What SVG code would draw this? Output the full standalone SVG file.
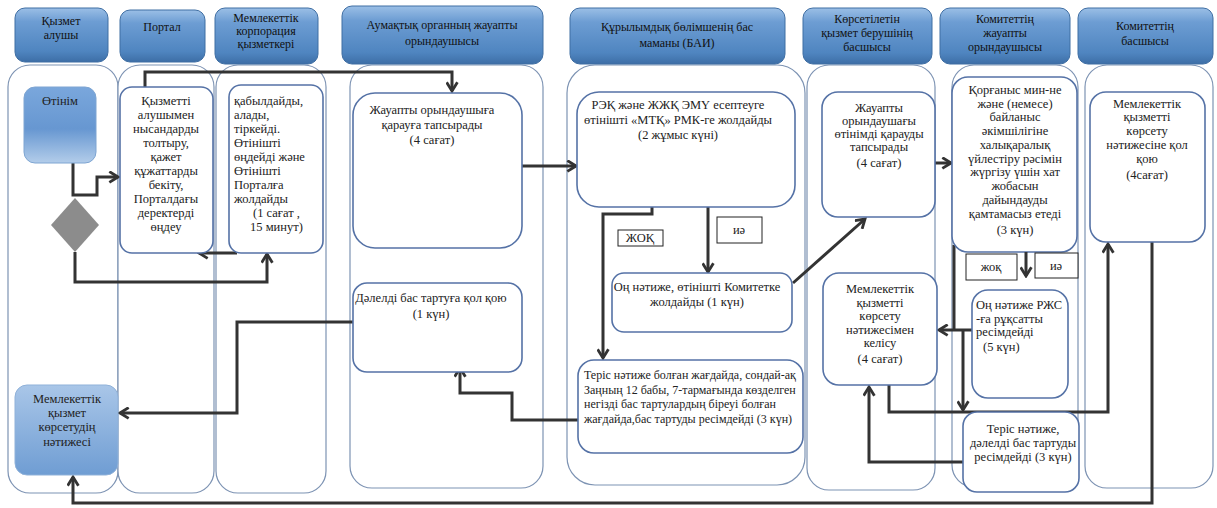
<svg xmlns="http://www.w3.org/2000/svg" width="1217" height="508" viewBox="0 0 1217 508">
<defs>
<linearGradient id="hdr" x1="0" y1="0" x2="0" y2="1">
<stop offset="0" stop-color="#9bbfe6"/>
<stop offset="0.25" stop-color="#6d9dd3"/>
<stop offset="0.8" stop-color="#4f85c0"/>
<stop offset="1" stop-color="#3d6ea6"/>
</linearGradient>
<linearGradient id="start" x1="0" y1="0" x2="0" y2="1">
<stop offset="0" stop-color="#7aa7dc"/>
<stop offset="0.55" stop-color="#6797d1"/>
<stop offset="1" stop-color="#b3cdea"/>
</linearGradient>
<linearGradient id="endg" x1="0" y1="0" x2="0" y2="1">
<stop offset="0" stop-color="#a9c6e8"/>
<stop offset="1" stop-color="#6f9dd3"/>
</linearGradient>
<marker id="arr" viewBox="0 0 12 12" refX="10" refY="6" markerWidth="13" markerHeight="13" markerUnits="userSpaceOnUse" orient="auto">
<path d="M2,1 L10,6 L2,11" fill="none" stroke="#333" stroke-width="2.6"/>
</marker>
</defs>
<style>
.lane{fill:#fff;stroke:#7d93b3;stroke-width:1.2}
.hdr{fill:url(#hdr);stroke:#3f6ea3;stroke-width:1}
.box{fill:#fff;stroke:#5572a6;stroke-width:1.6}
.lbl{fill:#fff;stroke:#222;stroke-width:1}
.t{font-family:"Liberation Serif","DejaVu Serif",serif;font-size:12.5px;fill:#222}
.th{font-family:"Liberation Serif","DejaVu Serif",serif;font-size:12px;fill:#111}
.s{font-size:12px}
.c{text-anchor:middle}
.con{fill:none;stroke:#333;stroke-width:3}
</style>

<g id="lanes">
<rect class="lane" x="8" y="65" width="110" height="428" rx="22"/>
<rect class="lane" x="118" y="65" width="96" height="428" rx="22"/>
<rect class="lane" x="216" y="65" width="110" height="428" rx="22"/>
<rect class="lane" x="350" y="65" width="193" height="423" rx="22"/>
<rect class="lane" x="567" y="65" width="238" height="420" rx="28"/>
<rect class="lane" x="807" y="65" width="128" height="425" rx="22"/>
<rect class="lane" x="952" y="65" width="126" height="422" rx="22"/>
<rect class="lane" x="1085" y="65" width="128" height="423" rx="22"/>
</g>

<g id="headers">
<rect class="hdr" x="15" y="8" width="93" height="54" rx="10"/>
<text class="th c" x="61" y="25">Қызмет</text><text class="th c" x="61" y="39">алушы</text>
<rect class="hdr" x="120" y="10" width="85" height="52" rx="10"/>
<text class="th c" x="162" y="31">Портал</text>
<rect class="hdr" x="215" y="8" width="103" height="56" rx="10"/>
<text class="th c" x="266" y="22">Мемлекеттік</text><text class="th c" x="266" y="35">корпорация</text><text class="th c" x="266" y="48">қызметкері</text>
<rect class="hdr" x="342" y="6" width="201" height="58" rx="10"/>
<text class="th c" x="442" y="29">Аумақтық органның жауапты</text><text class="th c" x="442" y="45">орындаушысы</text>
<rect class="hdr" x="570" y="8" width="215" height="56" rx="10"/>
<text class="th c" x="677" y="31">Құрылымдық бөлімшенің бас</text><text class="th c" x="677" y="47">маманы (БАИ)</text>
<rect class="hdr" x="803" y="8" width="129" height="56" rx="10"/>
<text class="th c" x="867" y="23">Көрсетілетін</text><text class="th c" x="867" y="37">қызмет берушінің</text><text class="th c" x="867" y="51">басшысы</text>
<rect class="hdr" x="940" y="8" width="130" height="56" rx="10"/>
<text class="th c" x="1005" y="23">Комитеттің</text><text class="th c" x="1005" y="37">жауапты</text><text class="th c" x="1005" y="51">орындаушысы</text>
<rect class="hdr" x="1078" y="8" width="135" height="56" rx="10"/>
<text class="th c" x="1145" y="30">Комитеттің</text><text class="th c" x="1145" y="45">басшысы</text>
</g>

<g id="connectors">
<polyline class="con" points="73,163 73,195 97,195 97,177 118,177" marker-end="url(#arr)"/>
<polyline class="con" points="75,252 75,282 267,282 267,254" marker-end="url(#arr)"/>
<polyline class="con" points="237,253 199,253" marker-end="url(#arr)"/>
<polyline class="con" points="145,87 145,72 452,72 452,91" marker-end="url(#arr)"/>
<polyline class="con" points="522,166 576,166" marker-end="url(#arr)"/>
<polyline class="con" points="708,207 708,272" marker-end="url(#arr)"/>
<polyline class="con" points="652,207 652,214 603,214 603,358" marker-end="url(#arr)"/>
<polyline class="con" points="793,283 865,219" marker-end="url(#arr)"/>
<polyline class="con" points="935,163 951,163" marker-end="url(#arr)"/>
<polyline class="con" points="954,245 954,330"/>
<polyline class="con" points="972,330 939,330" marker-end="url(#arr)"/>
<polyline class="con" points="963,330 963,410" marker-end="url(#arr)"/>
<polyline class="con" points="889,385 889,412 1108,412 1108,244" marker-end="url(#arr)"/>
<polyline class="con" points="963,462 869,462 869,387" marker-end="url(#arr)"/>
<polyline class="con" points="1152,242 1152,503 73,503 73,477" marker-end="url(#arr)"/>
<polyline class="con" points="578,420 512,420 512,393 460,393 460,368" marker-end="url(#arr)"/>
<polyline class="con" points="353,322 237,322 237,413 120,413" marker-end="url(#arr)"/>
</g>

<g id="n-start">
<rect x="24" y="87" width="72" height="76" rx="11" fill="url(#start)" stroke="#7ea5d2" stroke-width="1"/>
<text class="t c" x="60" y="105">Өтінім</text>
</g>
<g id="n-decision">
<polygon points="75,198 99,225 75,252 51,225" fill="#8c8c8c"/>
</g>
<g id="n-portal">
<rect class="box" x="120" y="87" width="93" height="166" rx="12"/>
<text class="t c" x="166" y="105">Қызметті</text>
<text class="t c" x="166" y="119">алушымен</text>
<text class="t c" x="166" y="133">нысандарды</text>
<text class="t c" x="166" y="147">толтыру,</text>
<text class="t c" x="166" y="161">қажет</text>
<text class="t c" x="166" y="175">құжаттарды</text>
<text class="t c" x="166" y="189">бекіту,</text>
<text class="t c" x="166" y="203">Порталдағы</text>
<text class="t c" x="166" y="217">деректерді</text>
<text class="t c" x="166" y="231">өңдеу</text>
</g>
<g id="n-corp">
<rect class="box" x="229" y="85" width="94" height="168" rx="12"/>
<text class="t" x="234" y="105">қабылдайды,</text>
<text class="t" x="234" y="119">алады,</text>
<text class="t" x="234" y="133">тіркейді.</text>
<text class="t" x="234" y="147">Өтінішті</text>
<text class="t" x="234" y="161">өңдейді және</text>
<text class="t" x="234" y="175">Өтінішті</text>
<text class="t" x="234" y="189">Порталға</text>
<text class="t" x="234" y="203">жолдайды</text>
<text class="t" x="253" y="217">(1 сағат ,</text>
<text class="t" x="250" y="231">15 минут)</text>
</g>
<g id="n-assign">
<rect class="box" x="353" y="93" width="169" height="155" rx="22"/>
<text class="t c" x="432" y="114">Жауапты орындаушыға</text>
<text class="t c" x="432" y="129">қарауға тапсырады</text>
<text class="t c" x="432" y="144">(4 сағат)</text>
</g>
<g id="n-sign-refusal">
<rect class="box" x="353" y="283" width="169" height="89" rx="14"/>
<text class="t c" x="431" y="302">Дәлелді бас тартуға қол қою</text>
<text class="t c" x="431" y="318">(1 күн)</text>
</g>
<g id="n-send">
<rect class="box" x="577" y="92" width="218" height="115" rx="22"/>
<text class="t c" x="678" y="109">РЭҚ және ЖЖҚ ЭМҮ есептеуге</text>
<text class="t c" x="678" y="124">өтінішті «МТҚ» РМК-ге жолдайды</text>
<text class="t c" x="678" y="139">(2 жұмыс күні)</text>
</g>
<g id="lbl-no1">
<rect class="lbl" x="618" y="230" width="45" height="16"/>
<text class="t c" x="640" y="242" font-size="11">ЖОҚ</text>
</g>
<g id="lbl-yes1">
<rect class="lbl" x="717" y="217" width="45" height="26"/>
<text class="t c" x="739" y="234">иә</text>
</g>
<g id="n-positive">
<rect class="box" x="612" y="273" width="180" height="59" rx="12"/>
<text class="t c" x="697" y="291">Оң нәтиже, өтінішті Комитетке</text>
<text class="t c" x="697" y="306">жолдайды   (1 күн)</text>
</g>
<g id="n-negative">
<rect class="box" x="578" y="360" width="225" height="93" rx="16"/>
<text class="t s" x="584" y="379">Теріс нәтиже болған жағдайда, сондай-ақ</text>
<text class="t s" x="584" y="394">Заңның 12 бабы, 7-тармағында көзделген</text>
<text class="t s" x="584" y="408">негізді бас тартулардың біреуі болған</text>
<text class="t s" x="584" y="423">жағдайда,бас тартуды ресімдейді (3 күн)</text>
</g>
<g id="n-head-assign">
<rect class="box" x="822" y="92" width="113" height="125" rx="16"/>
<text class="t c" x="879" y="112">Жауапты</text>
<text class="t c" x="879" y="125">орындаушағы</text>
<text class="t c" x="879" y="138">өтінімді қарауды</text>
<text class="t c" x="879" y="151">тапсырады</text>
<text class="t c" x="879" y="167">(4 сағат)</text>
</g>
<g id="n-agree">
<rect class="box" x="823" y="273" width="114" height="112" rx="16"/>
<text class="t c" x="880" y="293">Мемлекеттік</text>
<text class="t c" x="880" y="307">қызметті</text>
<text class="t c" x="880" y="320">көрсету</text>
<text class="t c" x="880" y="334">нәтижесімен</text>
<text class="t c" x="880" y="347">келісу</text>
<text class="t c" x="880" y="363">(4 сағат)</text>
</g>
<g id="n-letter">
<rect class="box" x="952" y="77" width="125" height="175" rx="16"/>
<text class="t c" x="1015" y="94">Қорғаныс мин-не</text>
<text class="t c" x="1015" y="108">және (немесе)</text>
<text class="t c" x="1015" y="121">байланыс</text>
<text class="t c" x="1015" y="135">әкімшілігіне</text>
<text class="t c" x="1015" y="149">халықаралық</text>
<text class="t c" x="1015" y="163">үйлестіру рәсімін</text>
<text class="t c" x="1015" y="176">жүргізу үшін хат</text>
<text class="t c" x="1015" y="190">жобасын</text>
<text class="t c" x="1015" y="204">дайындауды</text>
<text class="t c" x="1015" y="218">қамтамасыз етеді</text>
<text class="t c" x="1015" y="234">(3 күн)</text>
</g>
<g id="lbl-no2">
<rect class="lbl" x="966" y="254" width="51" height="26"/>
<text class="t c" x="991" y="271">жоқ</text>
</g>
<g id="lbl-yes2">
<rect class="lbl" x="1035" y="253" width="43" height="25"/>
<text class="t c" x="1056" y="270">иә</text>
</g>
<g id="arrow-mid">
<polyline class="con" points="1026,252 1026,276" marker-end="url(#arr)"/>
</g>
<g id="n-rjs">
<rect class="box" x="972" y="290" width="96" height="108" rx="16"/>
<text class="t" x="976" y="309">Оң нәтиже РЖС</text>
<text class="t" x="976" y="323">-ға рұқсатты</text>
<text class="t" x="976" y="336">ресімдейді</text>
<text class="t" x="983" y="351">(5 күн)</text>
</g>
<g id="n-neg2">
<rect class="box" x="963" y="412" width="116" height="80" rx="14"/>
<text class="t c" x="1023" y="433">Теріс нәтиже,</text>
<text class="t c" x="1023" y="447">дәлелді бас тартуды</text>
<text class="t c" x="1023" y="461">ресімдейді (3 күн)</text>
</g>
<g id="n-sign">
<rect class="box" x="1090" y="92" width="115" height="150" rx="16"/>
<text class="t c" x="1147" y="108">Мемлекеттік</text>
<text class="t c" x="1147" y="121">қызметті</text>
<text class="t c" x="1147" y="135">көрсету</text>
<text class="t c" x="1147" y="149">нәтижесіне қол</text>
<text class="t c" x="1147" y="163">қою</text>
<text class="t c" x="1147" y="179">(4сағат)</text>
</g>
<g id="n-result">
<rect x="15" y="385" width="103" height="90" rx="12" fill="url(#endg)" stroke="#8fb1d9" stroke-width="1"/>
<text class="t c" x="67" y="403">Мемлекеттік</text>
<text class="t c" x="67" y="417">қызмет</text>
<text class="t c" x="67" y="431">көрсетудің</text>
<text class="t c" x="67" y="446">нәтижесі</text>
</g>
</svg>
